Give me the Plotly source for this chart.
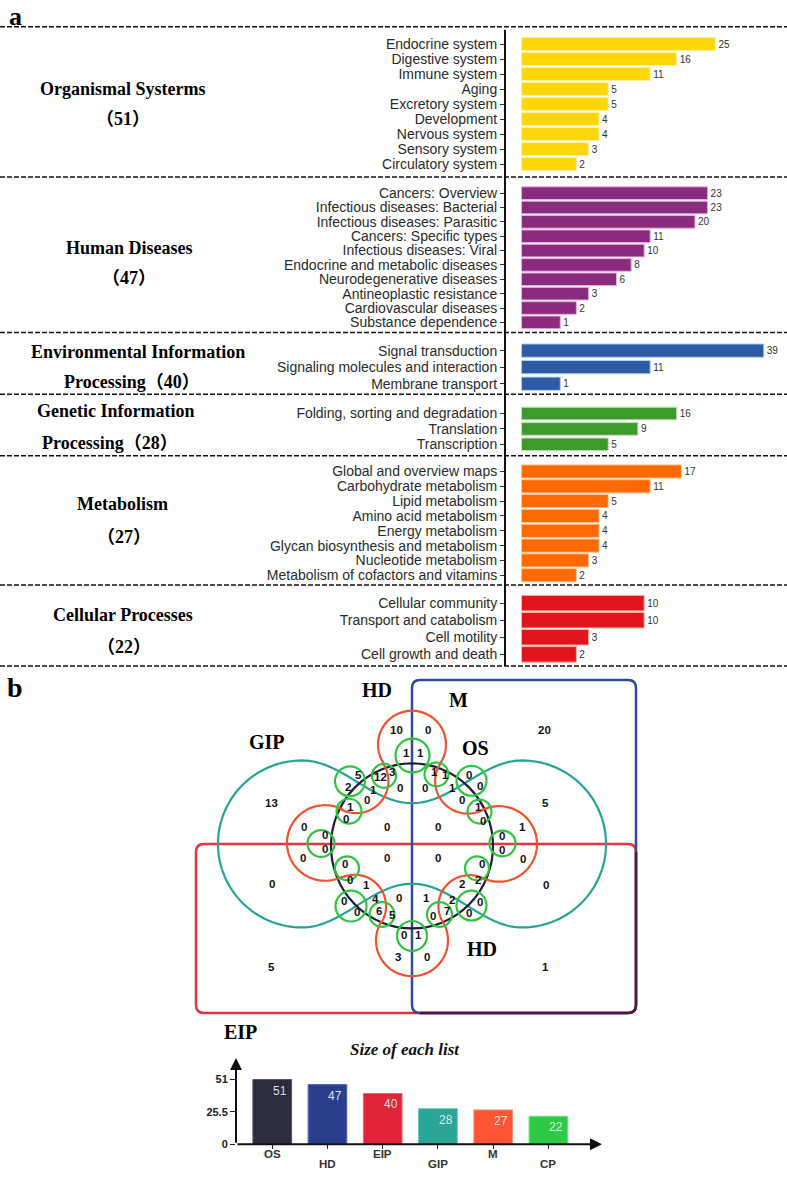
import numpy as np
import plotly.graph_objects as go

W, H = 787, 1177

# ---------------------------------------------------------------- data: panel a
os_terms = ["Endocrine system", "Digestive system", "Immune system", "Aging",
            "Excretory system", "Development", "Nervous system", "Sensory system",
            "Circulatory system"]
os_counts = [25, 16, 11, 5, 5, 4, 4, 3, 2]

hd_terms = ["Cancers: Overview", "Infectious diseases: Bacterial",
            "Infectious diseases: Parasitic", "Cancers: Specific types",
            "Infectious diseases: Viral", "Endocrine and metabolic diseases",
            "Neurodegenerative diseases", "Antineoplastic resistance",
            "Cardiovascular diseases", "Substance dependence"]
hd_counts = [23, 23, 20, 11, 10, 8, 6, 3, 2, 1]

eip_terms = ["Signal transduction", "Signaling molecules and interaction",
             "Membrane transport"]
eip_counts = [39, 11, 1]

gip_terms = ["Folding, sorting and degradation", "Translation", "Transcription"]
gip_counts = [16, 9, 5]

m_terms = ["Global and overview maps", "Carbohydrate metabolism", "Lipid metabolism",
           "Amino acid metabolism", "Energy metabolism",
           "Glycan biosynthesis and metabolism", "Nucleotide metabolism",
           "Metabolism of cofactors and vitamins"]
m_counts = [17, 11, 5, 4, 4, 4, 3, 2]

cp_terms = ["Cellular community", "Transport and catabolism", "Cell motility",
            "Cell growth and death"]
cp_counts = [10, 10, 3, 2]

group_title_1 = ["Organismal Systerms", "Human Diseases", "Environmental Information",
                 "Genetic Information", "Metabolism", "Cellular Processes"]
group_title_2_prefix = ["", "", "Processing", "Processing", "", ""]
group_totals = [51, 47, 40, 28, 27, 22]

# ---------------------------------------------------------------- data: panel b
list_names = ["OS", "HD", "EIP", "GIP", "M", "CP"]
list_sizes = [51, 47, 40, 28, 27, 22]
size_ticks = [0, 25.5, 51]
size_tick_text = ["0", "25.5", "51"]

venn_set_labels = ["HD", "M", "GIP", "OS", "HD", "EIP"]
venn_counts = [10, 0, 1, 1, 5, 12, 3, 2, 1, 0, 0, 1, 1, 1, 0, 0, 0, 0, 1, 0, 1, 0,
               0, 0, 0, 1, 0, 0,
               0, 0, 0, 0, 0, 0,
               13, 5, 20, 0, 0,
               0, 0, 1, 0, 2, 2, 0, 1, 4, 2, 0, 0, 0, 6, 5, 0, 7, 0, 0, 1, 3, 0,
               5, 1]

# ---------------------------------------------------------------- layout / style
groups = [(os_terms, os_counts), (hd_terms, hd_counts), (eip_terms, eip_counts),
          (gip_terms, gip_counts), (m_terms, m_counts), (cp_terms, cp_counts)]
group_colors = ["#FFD60A", "#8A2B7E", "#2C5AA4", "#3E9A2C", "#FF6A00", "#E0161C"]
group_edges = ["#FFF0A8", "#E8B0DE", "#B4CCEE", "#BDE3AE", "#FFC49A", "#FFB4AA"]
# first bar centre (px), last bar centre (px), bar width fraction
group_rows = [(43.3, 164.0, 0.88), (193.3, 323.3, 0.88), (351.7, 385.0, 0.80),
              (415.0, 446.0, 0.82), (473.3, 577.7, 0.89), (605.7, 657.3, 0.91)]
title_pos = [((123, 89), (123, 119)), ((129, 248), (129, 279)),
             ((138, 353), (132, 383)), ((115, 412), (110, 445)),
             ((122, 506), (124, 539)), ((123, 618), (124, 650))]
dash_y = [26, 177, 333.5, 395.5, 457.5, 587.5, 669]
bar_x_left, axis_line_x = 505, 505
sqrt_range = [-0.425, 6.843]

venn_label_xy = [
    (396.7, 733.3), (427.7, 733.3), (406, 756), (420.7, 756), (358.3, 779),
    (380, 781), (392, 776), (348.3, 791), (373.5, 793.5), (400, 791.7),
    (425, 791.7), (434, 775.7), (445.7, 779), (452.7, 791.7), (469.3, 778.3),
    (480, 789.3), (366.7, 803.3), (461.7, 803.3), (350.7, 811), (346, 823.3),
    (478.3, 811), (482.7, 825),
    (304, 831), (387.3, 831), (437.7, 831), (522.5, 831), (324.5, 839), (501.7, 839.5),
    (324.5, 853.3), (303.3, 862.5), (387, 862), (438, 862), (501.7, 854), (523, 863),
    (271.7, 806.7), (545.7, 806.7), (544, 733.3), (271.7, 888.3), (545.7, 889),
    (345, 868.3), (350, 884.3), (366, 889), (481.7, 868.3), (478.3, 884.3),
    (461.7, 888.3), (399.3, 902.3), (426, 902.3), (375, 903.3), (451.7, 904.3),
    (344.3, 905), (480, 906), (356.7, 916), (379, 915), (392.7, 919), (433.3, 920),
    (446.7, 915.7), (469.3, 917.7), (404.3, 940), (418.3, 940), (397.7, 961.7),
    (426.7, 961.7),
    (271.7, 971.7), (545.7, 971.7)]
venn_set_xy = [(376.7, 693.3), (458.3, 703.3), (266.7, 745), (475, 751.7),
               (481.7, 953.3), (240, 1036.7)]

C = (412.0, 848.0)
black_circle = (412.0, 850.0, 81.0, 83.0)
orange_lobes = [(412, 748, 34), (499, 848, 38), (412, 945, 36), (325, 847, 38)]
orange_diags = [(467.8, 784.8), (469.5, 910.5), (354.5, 910.5), (356.2, 784.8)]
green_rings = [(412.5, 759, 17), (436.5, 778, 12), (471.5, 784.5, 15), (479.5, 815.5, 12),
               (502.5, 847.5, 13), (477, 872.5, 12), (471.5, 910, 15), (439.5, 919, 12.5),
               (412, 940.5, 15), (382, 919, 12.5), (351, 910.5, 15.5), (347, 872.5, 12),
               (321, 847.5, 13.5), (349, 815, 12.5), (350, 785, 15), (384, 779.5, 12)]
teal = dict(lobe_l=302, lobe_r=522, cy=848, r=84, dip=807, hump=888)
blue_rect = (412, 683, 636, 1018)
red_rect = (196, 848, 636, 1018)
corner = 8

BLUE_C, RED_C, MAROON_C = "#2D4B9B", "#E8323F", "#4A1745"
TEAL_C, ORANGE_C, GREEN_C, BLACK_C = "#27A397", "#F2522B", "#2EC43F", "#1E1E3C"
list_colors = ["#2B2B3B", "#2A3F8C", "#E0243A", "#2AA598", "#FF5533", "#2DCB45"]
list_edges = ["#55556a", "#5068b0", "#f06070", "#60c8bc", "#ff8a70", "#70e080"]

SANS = "Liberation Sans, Arial, sans-serif"
SERIF = "Liberation Serif, Noto Sans CJK SC, serif"


def py(p):
    return 1 - p / H


def ang(p, q):
    return np.arctan2(q[1] - p[1], q[0] - p[0])


def directed(a0, a1, am):
    two = 2 * np.pi
    d = (a1 - a0) % two
    m = (am - a0) % two
    return (a0, a0 + d) if m <= d else (a0, a0 - (two - d))


def arc(cx, cy, rx, a0, a1, n=70, ry=None):
    ry = rx if ry is None else ry
    t = np.linspace(a0, a1, n)
    return list(zip(cx + rx * np.cos(t), cy + ry * np.sin(t)))


def to_path(pts, close=True):
    s = "M %.2f,%.2f " % pts[0] + " ".join("L %.2f,%.2f" % p for p in pts[1:])
    return s + (" Z" if close else "")


def rrect(x0, y0, x1, y1, r):
    return (f"M {x0+r},{y0} L {x1-r},{y0} Q {x1},{y0} {x1},{y0+r} L {x1},{y1-r} "
            f"Q {x1},{y1} {x1-r},{y1} L {x0+r},{y1} Q {x0},{y1} {x0},{y1-r} "
            f"L {x0},{y0+r} Q {x0},{y0} {x0+r},{y0} Z")


fig = go.Figure()
annotations = []
shapes = []

# page-coordinate axes (pixel units)
fig.add_trace(go.Scatter(x=[0], y=[0], mode="markers", marker=dict(opacity=0),
                         showlegend=False, hoverinfo="skip", xaxis="x", yaxis="y"))
layout = dict(
    xaxis=dict(domain=[0, 1], range=[0, W], visible=False, fixedrange=True),
    yaxis=dict(domain=[0, 1], range=[H, 0], visible=False, fixedrange=True),
)

# ---------------------------------------------------------------- panel a bars
for k, ((terms, counts), col, edge, (y1, yn, bw)) in enumerate(
        zip(groups, group_colors, group_edges, group_rows)):
    idx = k + 2
    n = len(terms)
    s = (yn - y1) / (n - 1)
    top, bot = y1 - s / 2, yn + s / 2
    fig.add_trace(go.Bar(
        x=np.sqrt(counts), y=terms, orientation="h", width=bw,
        marker=dict(color=col, line=dict(color=edge, width=1)),
        text=[str(c) for c in counts], textposition="outside", cliponaxis=False,
        constraintext="none",
        textfont=dict(family=SANS, size=10, color="#333333"),
        hoverinfo="skip", showlegend=False, xaxis=f"x{idx}", yaxis=f"y{idx}"))
    layout[f"xaxis{idx}"] = dict(domain=[bar_x_left / W, 1], range=sqrt_range,
                                 visible=False, anchor=f"y{idx}", fixedrange=True)
    layout[f"yaxis{idx}"] = dict(
        domain=[py(bot), py(top)], range=[n - 0.5, -0.5], anchor=f"x{idx}",
        type="category", categoryorder="array", categoryarray=terms,
        tickmode="array", tickvals=terms, ticktext=terms,
        ticks="outside", ticklen=4, tickwidth=1, tickcolor="#333333",
        showline=False, showgrid=False, zeroline=False, fixedrange=True,
        tickfont=dict(family=SANS, size=14, color="#2a2a2a"))

for k in range(6):
    (x1, y1), (x2, y2) = title_pos[k]
    annotations.append(dict(x=x1, y=y1, xref="x", yref="y", text=f"<b>{group_title_1[k]}</b>",
                            showarrow=False, font=dict(family=SERIF, size=18, color="black")))
    line2 = group_title_2_prefix[k] + "（%d）" % group_totals[k]
    annotations.append(dict(x=x2, y=y2, xref="x", yref="y", text=f"<b>{line2}</b>",
                            showarrow=False, font=dict(family=SERIF, size=18, color="black")))

for yv in dash_y:
    shapes.append(dict(type="line", xref="x", yref="y", x0=0, x1=W, y0=yv, y1=yv,
                       line=dict(color="#111111", width=1.5, dash="5px,2px")))
shapes.append(dict(type="line", xref="x", yref="y", x0=axis_line_x, x1=axis_line_x,
                   y0=29, y1=dash_y[-1], line=dict(color="#111111", width=2)))

annotations.append(dict(x=15, y=16, xref="x", yref="y", text="<b>a</b>", showarrow=False,
                        font=dict(family=SERIF, size=26, color="black")))
annotations.append(dict(x=15, y=691, xref="x", yref="y", text="<b>b</b>", showarrow=False,
                        font=dict(family=SERIF, size=28, color="black")))

# ---------------------------------------------------------------- panel b venn
shapes.append(dict(type="path", xref="x", yref="y", path=rrect(*red_rect, corner),
                   line=dict(color=RED_C, width=2.5)))
shapes.append(dict(type="path", xref="x", yref="y", path=rrect(*blue_rect, corner),
                   line=dict(color=BLUE_C, width=2.5)))
bx0, by0, bx1, by1 = blue_rect
shapes.append(dict(type="path", xref="x", yref="y",
                   path=(f"M {bx1},{red_rect[1] + corner} L {bx1},{by1 - corner} "
                         f"Q {bx1},{by1} {bx1 - corner},{by1} L {bx0 + corner},{by1}"),
                   line=dict(color=MAROON_C, width=2.5)))

# teal tennis-ball curve
tp = []
tp += arc(teal["lobe_l"], teal["cy"], teal["r"], *directed(-np.pi / 2, np.pi / 2, np.pi))
half = (teal["lobe_r"] - teal["lobe_l"]) / 2
mid = (teal["lobe_r"] + teal["lobe_l"]) / 2
xs = np.linspace(teal["lobe_l"], teal["lobe_r"], 80)
bot_y = teal["cy"] + teal["r"]
top_y = teal["cy"] - teal["r"]
amp_h = (bot_y - teal["hump"]) / 2
amp_d = (teal["dip"] - top_y) / 2
tp += list(zip(xs, (bot_y - amp_h) - amp_h * np.cos(np.pi * (xs - mid) / half)))
tp += arc(teal["lobe_r"], teal["cy"], teal["r"], *directed(np.pi / 2, -np.pi / 2, 0.0))
xs2 = xs[::-1]
tp += list(zip(xs2, (top_y + amp_d) + amp_d * np.cos(np.pi * (xs2 - mid) / half)))
shapes.append(dict(type="path", xref="x", yref="y", path=to_path(tp),
                   line=dict(color=TEAL_C, width=2.2)))

# black circle
cx, cy, rx, ry = black_circle
shapes.append(dict(type="circle", xref="x", yref="y", x0=cx - rx, x1=cx + rx,
                   y0=cy - ry, y1=cy + ry, line=dict(color=BLACK_C, width=2.2)))

# orange cogwheel
op = []
nl = len(orange_lobes)
diag_r = []
for i in range(nl):
    D = orange_diags[i]
    L1, L2 = orange_lobes[i], orange_lobes[(i + 1) % nl]
    d1 = np.hypot(D[0] - L1[0], D[1] - L1[1]) - L1[2]
    d2 = np.hypot(D[0] - L2[0], D[1] - L2[1]) - L2[2]
    diag_r.append(0.5 * (d1 + d2))
for i in range(nl):
    L = orange_lobes[i]
    Dp, Dn = orange_diags[i - 1], orange_diags[i]
    op += arc(L[0], L[1], L[2], *directed(ang(L, Dp), ang(L, Dn), ang(C, L)))
    D = orange_diags[i]
    Ln = orange_lobes[(i + 1) % nl]
    op += arc(D[0], D[1], diag_r[i], *directed(ang(D, L), ang(D, Ln), ang(D, C)))
shapes.append(dict(type="path", xref="x", yref="y", path=to_path(op),
                   line=dict(color=ORANGE_C, width=2.2)))

for (gx, gy, gr) in green_rings:
    shapes.append(dict(type="circle", xref="x", yref="y", x0=gx - gr, x1=gx + gr,
                       y0=gy - gr, y1=gy + gr, line=dict(color=GREEN_C, width=2.2)))

for v, (x, y) in zip(venn_counts, venn_label_xy):
    annotations.append(dict(x=x, y=y, xref="x", yref="y", text=f"<b>{v}</b>",
                            showarrow=False, font=dict(family=SANS, size=11.5, color="#111111")))
for lab, (x, y) in zip(venn_set_labels, venn_set_xy):
    annotations.append(dict(x=x, y=y, xref="x", yref="y", text=f"<b>{lab}</b>",
                            showarrow=False, font=dict(family=SERIF, size=20, color="black")))

# ---------------------------------------------------------------- size-of-list bars
fig.add_trace(go.Bar(
    x=list_names, y=list_sizes, width=0.70,
    marker=dict(color=list_colors, line=dict(color=list_edges, width=1)),
    hoverinfo="skip", showlegend=False, xaxis="x8", yaxis="y8"))
layout["xaxis8"] = dict(domain=[236 / W, 602 / W], range=[-0.656, 5.97], anchor="y8",
                        type="category", showticklabels=False, ticks="outside", ticklen=4,
                        tickcolor="#222222", showgrid=False, zeroline=False, showline=False,
                        fixedrange=True)
layout["yaxis8"] = dict(domain=[py(1150), py(1060)], range=[0, 70.6], anchor="x8",
                        tickvals=size_ticks,
                        ticktext=[f"<b>{t}</b>" for t in size_tick_text], ticks="outside",
                        ticklen=5, tickcolor="#222222", showgrid=False, zeroline=False,
                        showline=False, fixedrange=True,
                        tickfont=dict(family=SANS, size=11, color="#222222"))
for i, (nm, v) in enumerate(zip(list_names, list_sizes)):
    annotations.append(dict(x=nm, y=v, xref="x8", yref="y8", text=str(v), showarrow=False,
                            xshift=8, yshift=-11,
                            font=dict(family=SANS, size=12, color="rgba(255,255,255,0.85)")))
    annotations.append(dict(x=nm, y=0, xref="x8", yref="y8", text=f"<b>{nm}</b>",
                            showarrow=False, yshift=-10 if i % 2 == 0 else -20,
                            font=dict(family=SANS, size=11.5, color="#333333")))
# axis arrows
annotations.append(dict(x=5.97, y=0, ax=-0.656, ay=0, xref="x8", yref="y8",
                        axref="x8", ayref="y8", text="", showarrow=True, arrowhead=2,
                        arrowsize=1.2, arrowwidth=2, arrowcolor="#111111", standoff=0))
annotations.append(dict(x=-0.656, y=68, ax=-0.656, ay=0, xref="x8", yref="y8",
                        axref="x8", ayref="y8", text="", showarrow=True, arrowhead=2,
                        arrowsize=1.2, arrowwidth=2, arrowcolor="#111111", standoff=0))
annotations.append(dict(x=405, y=1055, xref="x", yref="y",
                        text="<b><i>Size of each list</i></b>", showarrow=False,
                        font=dict(family=SERIF, size=17, color="#111111")))

layout.update(dict(
    width=W, height=H, margin=dict(l=0, r=0, t=0, b=0),
    paper_bgcolor="white", plot_bgcolor="rgba(0,0,0,0)",
    font=dict(family=SANS), showlegend=False, barmode="overlay",
    annotations=annotations, shapes=shapes,
))
fig.update_layout(**layout)

fig.write_html("out.html", config=dict(displayModeBar=False),
               post_script="document.body.style.margin='0px';")
